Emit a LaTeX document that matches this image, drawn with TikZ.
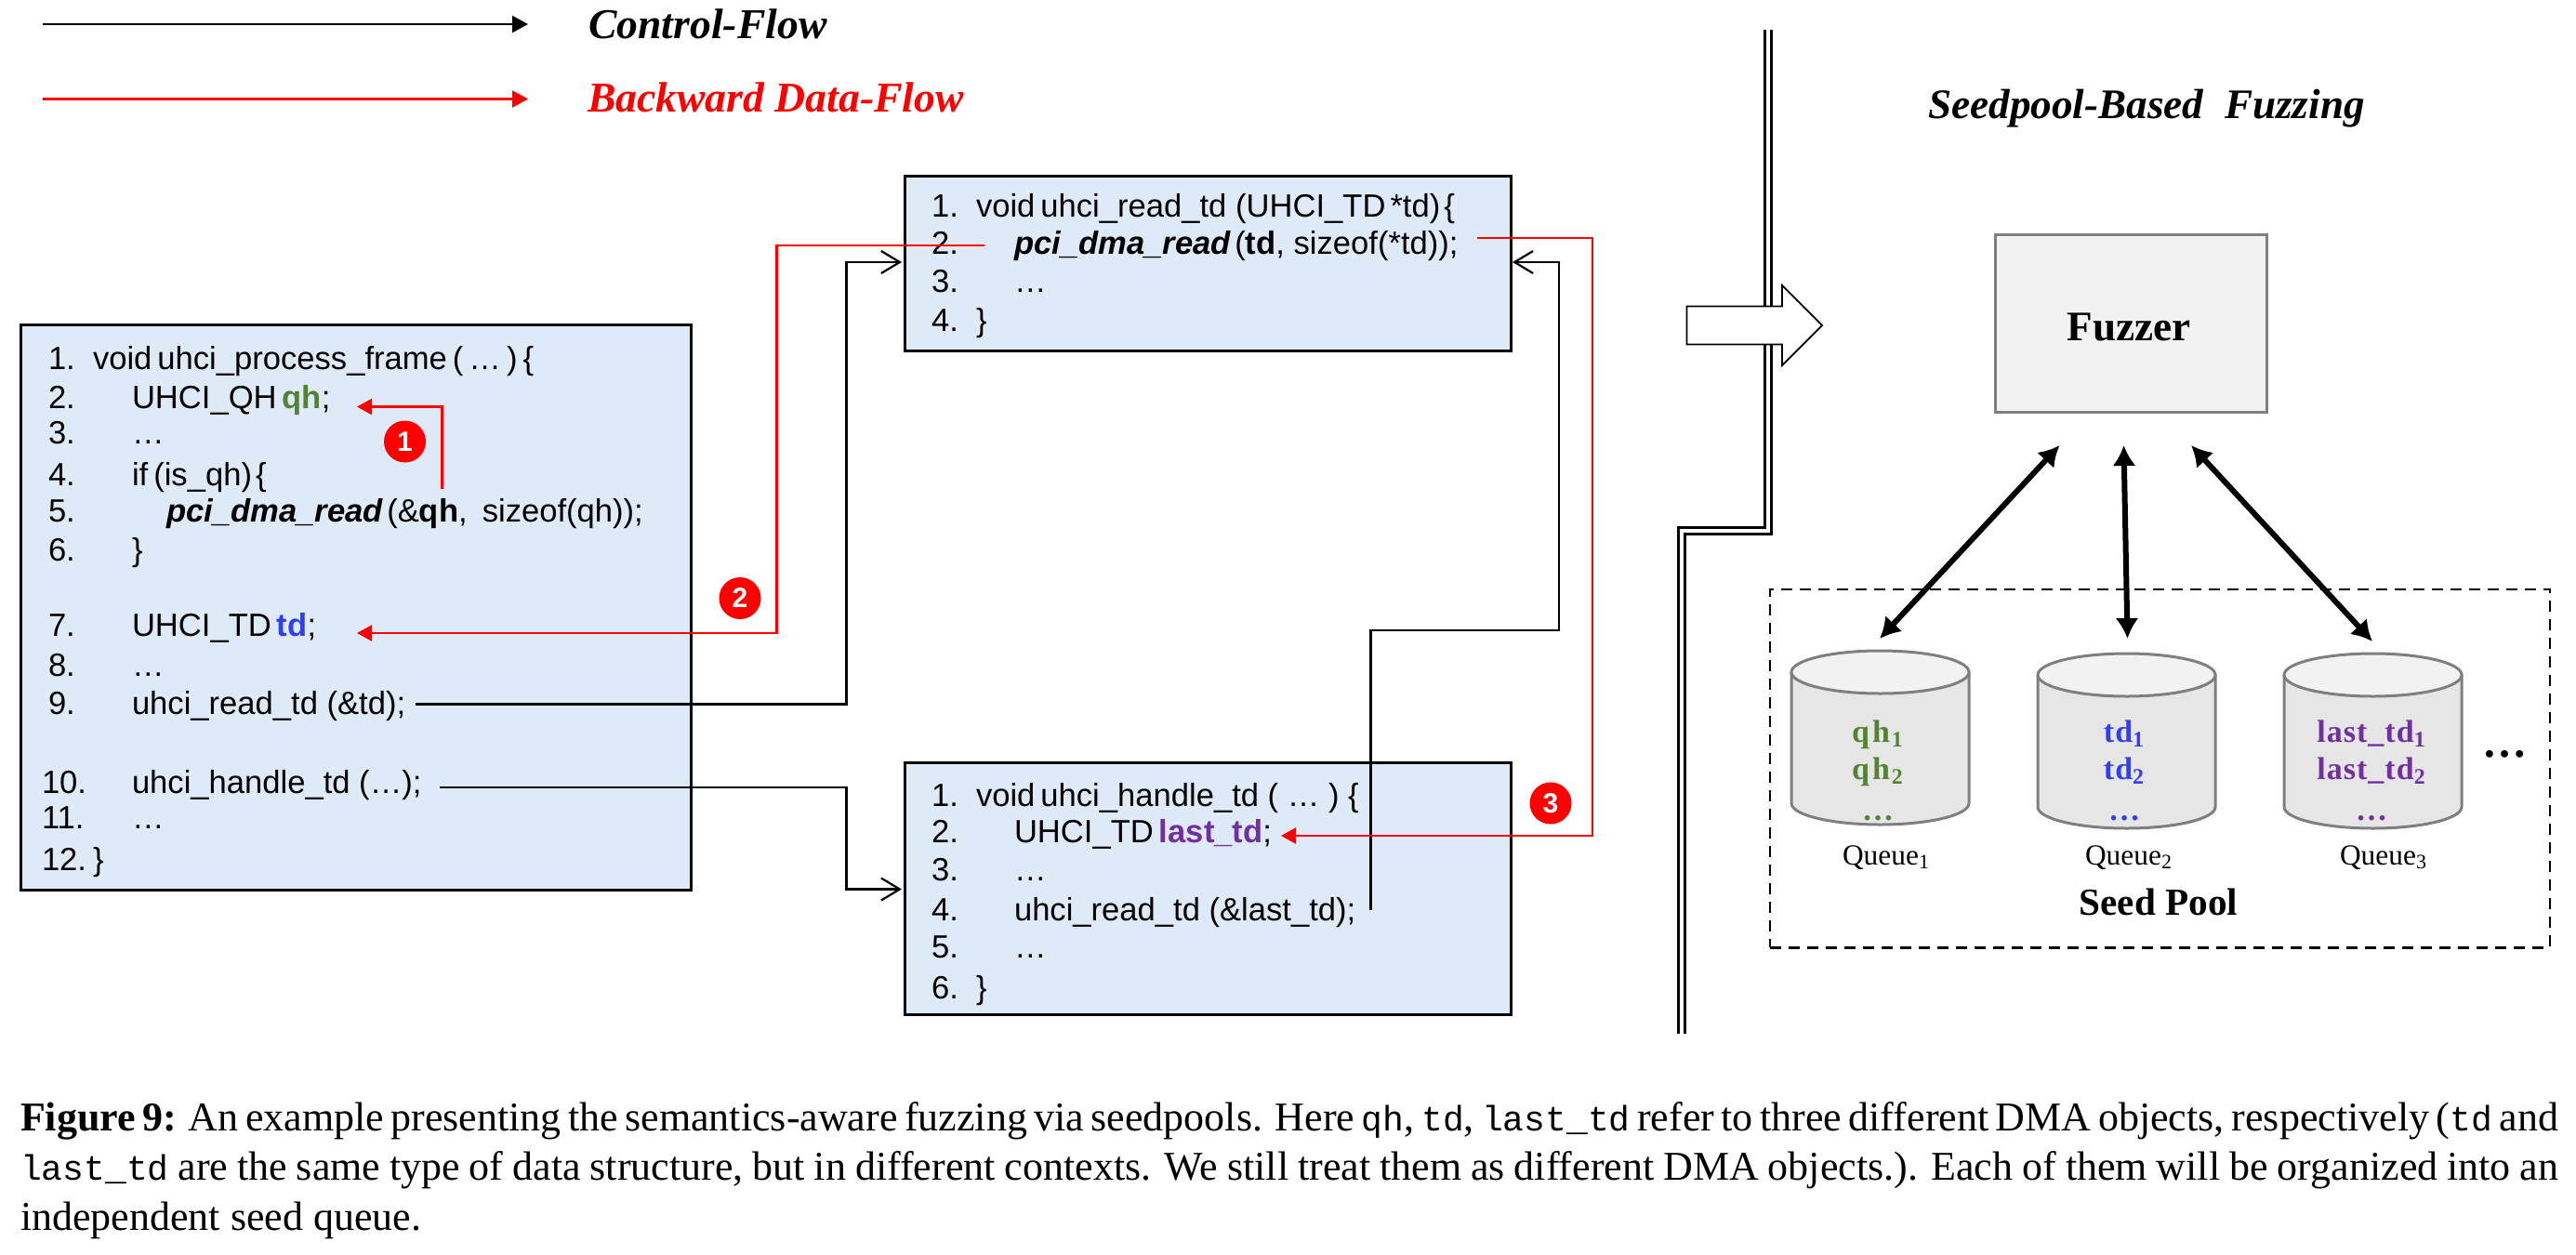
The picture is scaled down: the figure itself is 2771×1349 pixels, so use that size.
\documentclass[tikz,border=0pt]{standalone}
\usepackage{fontspec}
\setmainfont{Liberation Serif}
\newfontfamily\codefont{Liberation Sans}
\newfontfamily\capmono{Liberation Mono}
\newfontfamily\seedfont[LetterSpace=3]{Liberation Serif}
\usetikzlibrary{arrows.meta}
\definecolor{boxblue}{HTML}{DEEAF7}
\definecolor{qhgreen}{HTML}{548235}
\definecolor{tdblue}{HTML}{2F3DFF}
\definecolor{lastpurple}{HTML}{7030A0}
\definecolor{edgegray}{HTML}{7F7F7F}
\definecolor{fuzzgray}{HTML}{F2F2F2}
\definecolor{cylgray}{HTML}{E6E6E6}
\tikzset{
  codebox/.style={draw=black,fill=boxblue,line width=1.5pt,inner sep=0pt,outer sep=0pt},
  codetext/.style={anchor=base west,inner sep=0pt,outer sep=0pt,font=\codefont\fontsize{17.3pt}{20pt}\selectfont},
  ctrl/.style={draw=black,line width=1.1pt,line join=miter,-{Straight Barb[length=10pt,width=12pt,line width=1.1pt]}},
  dataflow/.style={draw=red,line width=1.2pt,line join=miter,-{Triangle[length=8pt,width=8.5pt]}},
  legendblack/.style={draw=black,line width=1.1pt,-{Triangle[length=8.5pt,width=9pt]}},
  legendred/.style={draw=red,line width=1.1pt,-{Triangle[length=8.5pt,width=9pt]}},
  numdot/.style={circle,fill=red,text=white,minimum size=22.5pt,inner sep=0pt,outer sep=0pt,font=\codefont\bfseries\fontsize{15pt}{17pt}\selectfont},
  legendlabel/.style={anchor=base west,inner sep=0pt,outer sep=0pt,font=\bfseries\itshape\fontsize{22.85pt}{26pt}\selectfont},
  thick both/.style={draw=black,line width=3pt,{Latex[length=11pt,width=12.5pt]}-{Latex[length=11pt,width=12.5pt]}},
  cylbody/.style={draw=edgegray,fill=cylgray,line width=1.5pt,line join=round},
  cyltop/.style={draw=edgegray,fill=fuzzgray,line width=1.5pt},
  seedtext/.style={anchor=base,inner sep=0pt,outer sep=0pt,font=\seedfont\bfseries\fontsize{17pt}{20pt}\selectfont,text=#1},
  queuelabel/.style={anchor=base,inner sep=0pt,outer sep=0pt,font=\fontsize{15.7pt}{18pt}\selectfont},
  capline/.style={anchor=base west,inner sep=0pt,outer sep=0pt,font=\fontsize{22pt}{24pt}\selectfont},
  wall/.style={draw=black,line width=1.5pt,double=white,double distance=1.6pt,line join=miter}
}
\newcommand{\codeline}[6]{%
  \node[codetext] (#1n) at (#2,#3) {#4};
  \node[codetext] (#1c) at (#5,#3) {#6};}
\newcommand{\capm}[1]{{\capmono\fontsize{19pt}{24pt}\selectfont #1}}
% centre x, top y, bottom y
\newcommand{\seedcyl}[3]{%
  \draw[cylbody] ({#1-95.5},{#2+23}) -- ({#1-95.5},{#3-23}) arc[start angle=180,end angle=0,x radius=95.5,y radius=23] -- ({#1+95.5},{#2+23}) -- cycle;
  \draw[cyltop] (#1,{#2+23}) ellipse[x radius=95.5,y radius=23];}
\begin{document}
\begin{tikzpicture}[x=0.5pt,y=-0.5pt]
\useasboundingbox (0,0) rectangle (2771,1349);
% legend
\coordinate (la) at (46,26); \coordinate (lb) at (568,26);
\coordinate (lc) at (46,106.5); \coordinate (ld) at (568,106.5);
\draw[legendblack] (la) -- (lb);
\draw[legendred] (lc) -- (ld);
\node[legendlabel] (lctrl) at (633,41.5) {Control-Flow};
\node[legendlabel,text=red] (lback) at (632,120) {Backward Data-Flow};
% wall
\coordinate (w1) at (1902,32); \coordinate (w2) at (1902,571); \coordinate (w3) at (1809,571); \coordinate (w4) at (1809,1112);
\draw[wall] (w1) -- (w2) -- (w3) -- (w4);
% block arrow
\coordinate (b1) at (1814.5,329.5); \coordinate (b2) at (1917,329.5); \coordinate (b3) at (1917,307); \coordinate (b4) at (1960,350);
\coordinate (b5) at (1917,393); \coordinate (b6) at (1917,370.5); \coordinate (b7) at (1814.5,370.5);
\draw[fill=white,line width=0.9pt,line join=miter] (b1) -- (b2) -- (b3) -- (b4) -- (b5) -- (b6) -- (b7) -- cycle;
% boxes
\node[codebox,minimum width=360.5pt,minimum height=304pt] (main) at (383,653) {};
\node[codebox,minimum width=326pt,minimum height=94pt] (read) at (1299,283.5) {};
\node[codebox,minimum width=326pt,minimum height=135.5pt] (handle) at (1299,956) {};
% main code
\codeline{ma}{52}{397}{1.}{100}{void\kern3pt uhci\_process\_frame\kern3pt(\kern3pt…\kern3pt)\kern3pt\{}
\codeline{mb}{52}{439}{2.}{142}{UHCI\_QH\kern3pt\textbf{\textcolor{qhgreen}{qh}};}
\codeline{mc}{52}{477}{3.}{142}{…}
\codeline{md}{52}{522}{4.}{142}{if\kern3pt(is\_qh)\kern2pt\{}
\codeline{me}{52}{561}{5.}{179}{\textbf{\textit{pci\_dma\_read}}\kern2pt(\&\textbf{qh},\kern8pt sizeof(qh));}
\codeline{mf}{52}{603}{6.}{142}{\}}
\codeline{mg}{52}{684}{7.}{142}{UHCI\_TD\kern3pt\textbf{\textcolor{tdblue}{td}};}
\codeline{mh}{52}{727}{8.}{142}{…}
\codeline{mi}{52}{768.5}{9.}{142}{uhci\_read\_td (\&td);}
\codeline{mj}{45}{853}{10.}{142}{uhci\_handle\_td (…);}
\codeline{mk}{45}{891.5}{11.}{142}{…}
\codeline{ml}{45}{936}{12.}{100}{\}}
% read code
\codeline{ra}{1002}{233}{1.}{1050}{void\kern3pt uhci\_read\_td (UHCI\_TD\kern2.5pt*td)\kern2pt\{}
\codeline{rb}{1002}{273}{2.}{1091}{\textbf{\textit{pci\_dma\_read}}\kern2pt(\textbf{td}, sizeof(*td));}
\codeline{rc}{1002}{314}{3.}{1091}{…}
\codeline{rd}{1002}{356}{4.}{1050}{\}}
% handle code
\codeline{ha}{1002}{867}{1.}{1050}{void\kern3pt uhci\_handle\_td ( … ) \{}
\codeline{hb}{1002}{906}{2.}{1091}{UHCI\_TD\kern3pt\textbf{\textcolor{lastpurple}{last\_td}};}
\codeline{hc}{1002}{947}{3.}{1091}{…}
\codeline{hd}{1002}{990.5}{4.}{1091}{uhci\_read\_td (\&last\_td);}
\codeline{he}{1002}{1030}{5.}{1091}{…}
\codeline{hf}{1002}{1074}{6.}{1050}{\}}
% control-flow connectors
\coordinate (c1) at (447,757.5); \coordinate (c2) at (910.5,757.5); \coordinate (c3) at (910.5,282); \coordinate (c4) at (970,282);
\draw[ctrl] (c1) -- (c2) -- (c3) -- (c4);
\coordinate (d1) at (473,847); \coordinate (d2) at (910.5,847); \coordinate (d3) at (910.5,956.5); \coordinate (d4) at (970,956.5);
\draw[ctrl] (d1) -- (d2) -- (d3) -- (d4);
\coordinate (e1) at (1474.5,979); \coordinate (e2) at (1474.5,678); \coordinate (e3) at (1677,678); \coordinate (e4) at (1677,282); \coordinate (e5) at (1627,282);
\draw[ctrl] (e1) -- (e2) -- (e3) -- (e4) -- (e5);
% data-flow connectors
\coordinate (f1) at (475.5,526); \coordinate (f2) at (475.5,437.5); \coordinate (f3) at (384,437.5);
\draw[dataflow] (f1) -- (f2) -- (f3);
\coordinate (g1) at (1059,264); \coordinate (g2) at (835.5,264); \coordinate (g3) at (835.5,681); \coordinate (g4) at (384,681);
\draw[dataflow] (g1) -- (g2) -- (g3) -- (g4);
\coordinate (h1) at (1589,256); \coordinate (h2) at (1713,256); \coordinate (h3) at (1713,899); \coordinate (h4) at (1378,899);
\draw[dataflow] (h1) -- (h2) -- (h3) -- (h4);
\node[numdot] (n1) at (435.5,475) {1};
\node[numdot] (n2) at (796,643.5) {2};
\node[numdot] (n3) at (1668,864) {3};
% right side
\node[anchor=base,inner sep=0pt,outer sep=0pt,font=\bfseries\itshape\fontsize{22.6pt}{26pt}\selectfont] (title) at (2309,127) {Seedpool-Based~~Fuzzing};
\node[draw=edgegray,fill=fuzzgray,line width=1.5pt,minimum width=146pt,minimum height=95.3pt,inner sep=0pt,outer sep=0pt] (fuzzer) at (2292,348) {};
\node[anchor=base,inner sep=0pt,outer sep=0pt,font=\bfseries\fontsize{22.6pt}{26pt}\selectfont] (fuzzerlabel) at (2290,366) {Fuzzer};
\node[draw=black,dash pattern=on 6pt off 4pt,line width=1.2pt,minimum width=419.5pt,minimum height=192.8pt,inner sep=0pt,outer sep=0pt] (pool) at (2323.5,826.5) {};
\seedcyl{2022.5}{700}{887}
\seedcyl{2287.5}{703}{891}
\seedcyl{2552.5}{703}{891}
% thick arrows
\coordinate (t1) at (2215.5,479); \coordinate (t2) at (2022,687);
\coordinate (t3) at (2284.5,479); \coordinate (t4) at (2288.5,687);
\coordinate (t5) at (2357,479); \coordinate (t6) at (2552,690);
\draw[thick both] (t1) -- (t2);
\draw[thick both] (t3) -- (t4);
\draw[thick both] (t5) -- (t6);
% seed texts
\node[seedtext=qhgreen] (s1a) at (2020,798) {q\kern1.5pt h\kern1pt\textsubscript{1}};
\node[seedtext=qhgreen] (s1b) at (2020,838.5) {q\kern1.5pt h\kern1pt\textsubscript{2}};
\node[seedtext=qhgreen] (s1c) at (2020,882) {…};
\node[seedtext=tdblue] (s2a) at (2285,798) {td\textsubscript{1}};
\node[seedtext=tdblue] (s2b) at (2285,838.5) {td\textsubscript{2}};
\node[seedtext=tdblue] (s2c) at (2285,882) {…};
\node[seedtext=lastpurple] (s3a) at (2551,798) {last\_td\textsubscript{1}};
\node[seedtext=lastpurple] (s3b) at (2551,838.5) {last\_td\textsubscript{2}};
\node[seedtext=lastpurple] (s3c) at (2551,882) {…};
\node[queuelabel] (ql1) at (2029,930) {Queue\textsubscript{1}};
\node[queuelabel] (ql2) at (2290,930) {Queue\textsubscript{2}};
\node[queuelabel] (ql3) at (2564,930) {Queue\textsubscript{3}};
\node[anchor=base,inner sep=0pt,outer sep=0pt,font=\bfseries\fontsize{20.6pt}{23pt}\selectfont] (seedpool) at (2322,984) {Seed Pool};
\node[anchor=base,inner sep=0pt,outer sep=0pt,font=\bfseries\fontsize{24pt}{26pt}\selectfont] (more) at (2694,814) {…};
% caption
\node[capline] (cap1) at (22,1216) {\makebox[1365pt][s]{\textbf{Figure 9:} An example presenting the semantics-aware fuzzing via seedpools. Here \capm{qh}, \capm{td}, \capm{last\_td} refer to three different DMA objects, respectively (\capm{td} and}};
\node[capline] (cap2) at (22,1269) {\makebox[1365pt][s]{\capm{last\_td} are the same type of data structure, but in different contexts. We still treat them as different DMA objects.). Each of them will be organized into an}};
\node[capline] (cap3) at (22,1323) {independent seed queue.};
\end{tikzpicture}
\end{document}
